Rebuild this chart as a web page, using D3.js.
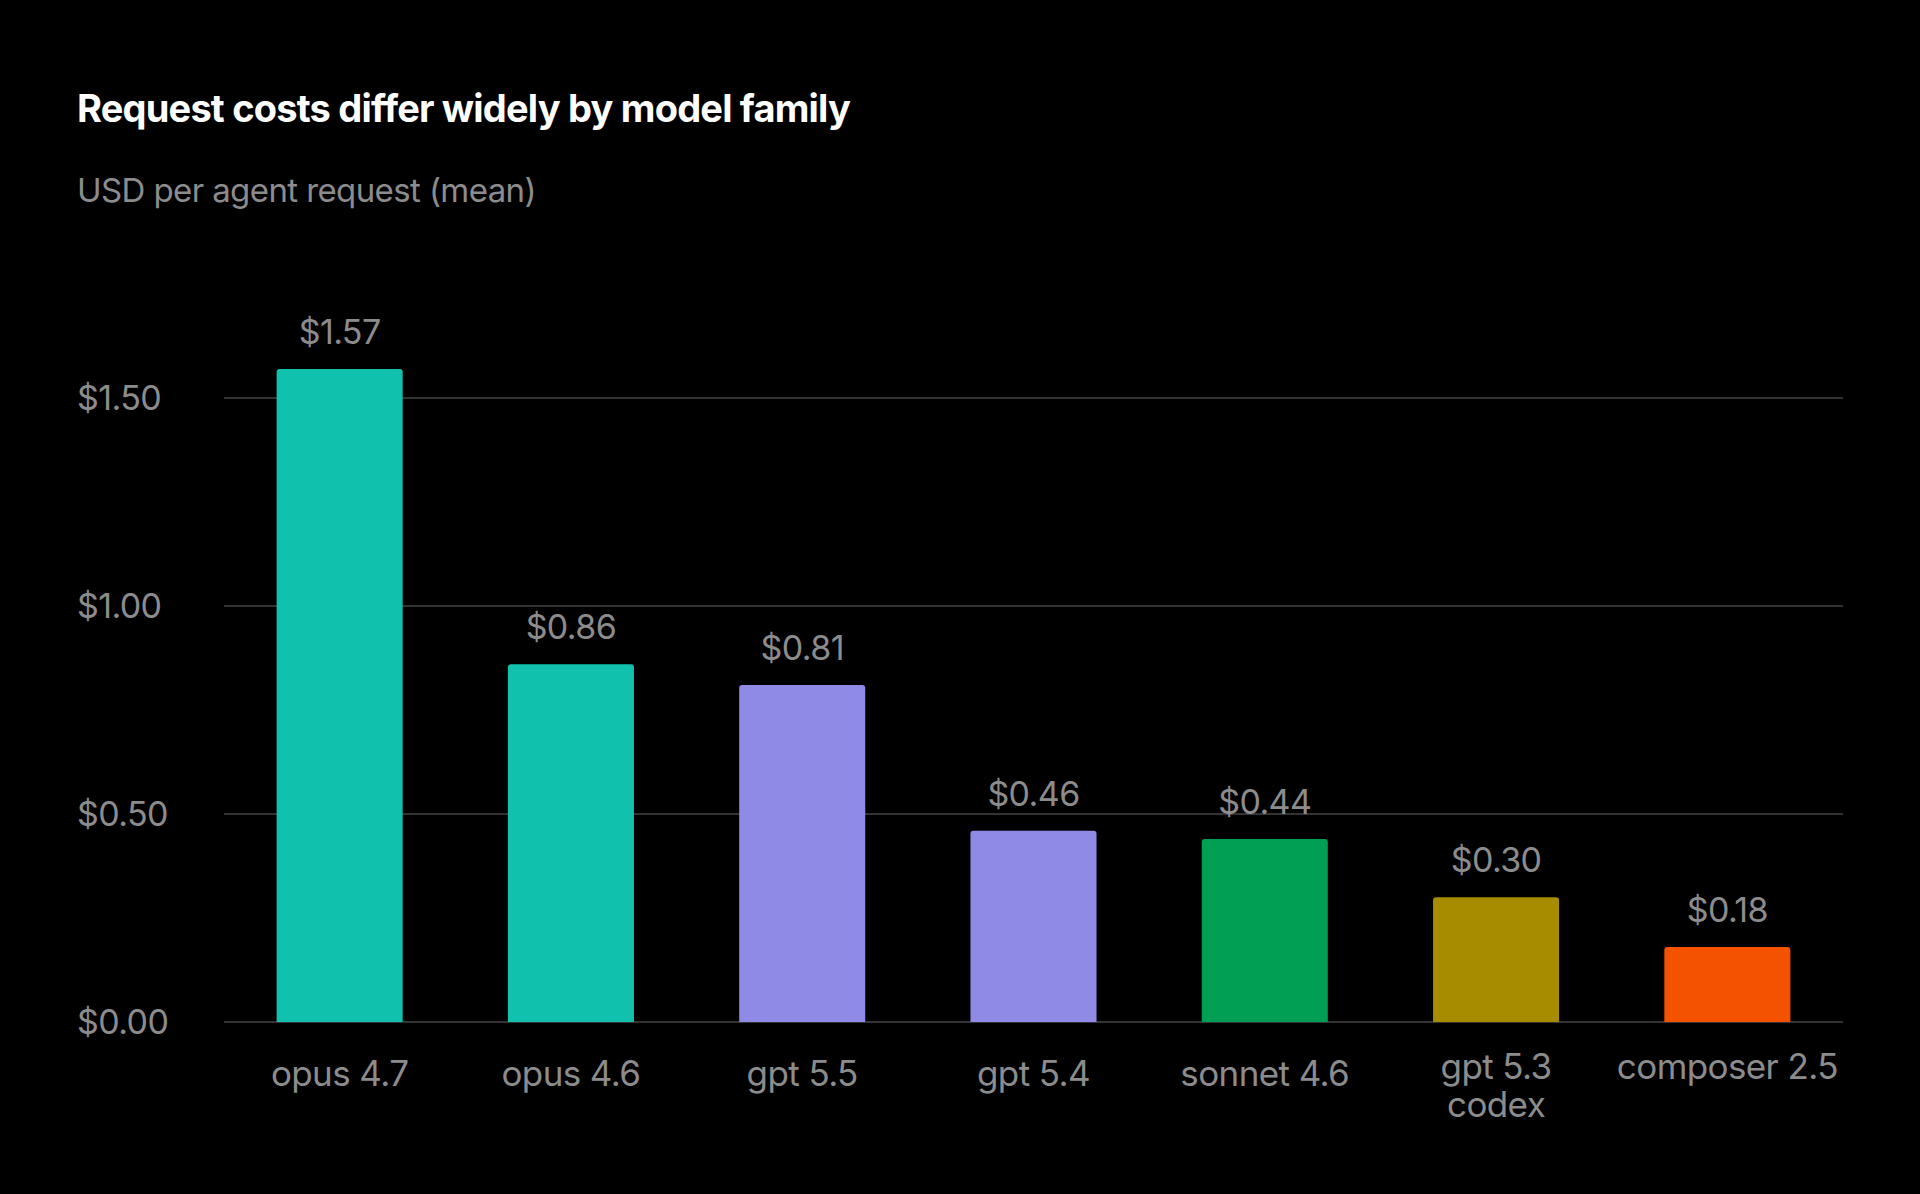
<!DOCTYPE html><html><head><meta charset="utf-8">
<script src="https://cdn.jsdelivr.net/npm/d3@7"></script>
<style>body{margin:0;background:#000}svg{display:block}</style></head><body>
<svg id="c" width="1920" height="1194"></svg>
<script>
const categories = ["opus 4.7","opus 4.6","gpt 5.5","gpt 5.4","sonnet 4.6","gpt 5.3 codex","composer 2.5"];
const labelLines = [["opus 4.7"],["opus 4.6"],["gpt 5.5"],["gpt 5.4"],["sonnet 4.6"],["gpt 5.3","codex"],["composer 2.5"]];
const values = [1.57,0.86,0.81,0.46,0.44,0.30,0.18];
const colors = ["#10C2AE","#10C2AE","#8E8AE6","#8E8AE6","#009F54","#A88C00","#F55200"];
const ticks = [0,0.5,1.0,1.5];
const font = "Inter, 'Noto Sans', sans-serif";
const svg = d3.select("#c");
const L=224,R=1843,T=300,B=1022;
const x = d3.scaleBand().domain(categories).range([L,R]).paddingInner(0.455).paddingOuter(0.2275);
const y = d3.scaleLinear().domain([0,1.5]).range([B,398]);
svg.append("text").attr("x",77).attr("y",122).attr("fill","#fff").attr("font-family",font).attr("font-weight",700).attr("font-size",38).attr("letter-spacing",-0.8).text("Request costs differ widely by model family");
svg.append("text").attr("x",77).attr("y",202).attr("fill","#8c8c8c").attr("font-family",font).attr("font-size",33).attr("letter-spacing",-0.6).text("USD per agent request (mean)");
svg.append("g").selectAll("line").data(ticks).join("line").attr("x1",L).attr("x2",R).attr("y1",d=>y(d)).attr("y2",d=>y(d)).attr("stroke","#333").attr("stroke-width",2);
svg.append("g").selectAll("text").data(ticks).join("text").attr("x",77).attr("y",d=>y(d)+12).attr("fill","#8c8c8c").attr("font-family",font).attr("font-size",34).attr("letter-spacing",-0.6).text(d=>"$"+d.toFixed(2));
const r=3;
svg.append("g").selectAll("path").data(values).join("path").attr("fill",(d,i)=>colors[i]).attr("d",(d,i)=>{
 const x0=x(categories[i]),w=x.bandwidth(),y0=y(d);
 return `M${x0},${B}V${y0+r}Q${x0},${y0} ${x0+r},${y0}H${x0+w-r}Q${x0+w},${y0} ${x0+w},${y0+r}V${B}Z`;});
svg.append("g").selectAll("text").data(values).join("text").attr("x",(d,i)=>x(categories[i])+x.bandwidth()/2).attr("y",(d)=>y(d)-25).attr("text-anchor","middle").attr("fill","#8c8c8c").attr("font-family",font).attr("font-size",34).attr("letter-spacing",-0.6).text(d=>"$"+d.toFixed(2));
const cl = svg.append("g").selectAll("text").data(labelLines).join("text").attr("text-anchor","middle").attr("fill","#8c8c8c").attr("font-family",font).attr("font-size",35).attr("letter-spacing",-0.6)
 .attr("y",(d,i)=>(d.length>1||d[0].length>10)?1079:1086);
cl.selectAll("tspan").data((d,i)=>d.map(t=>({t,i}))).join("tspan").attr("x",d=>x(categories[d.i])+x.bandwidth()/2).attr("dy",(d,j)=>j?38:0).text(d=>d.t);
</script></body></html>
